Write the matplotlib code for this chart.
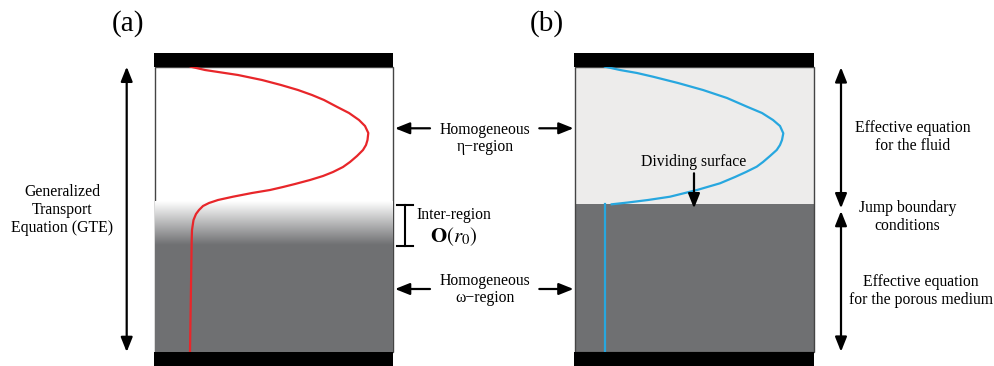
import numpy as np
import matplotlib
matplotlib.use('Agg')
import matplotlib.pyplot as plt
from matplotlib.patches import Rectangle

plt.rcParams['font.family'] = ['Liberation Serif', 'DejaVu Serif']
plt.rcParams['mathtext.fontset'] = 'stix'

# ---------------- data (pixel coordinates) -------------
panel_labels = ['(a)', '(b)']

# velocity profile, panel (a) (GTE with inter-region)
red_x = [190.7, 205, 238, 262, 281, 298, 312, 324, 336.7, 349, 359, 365, 368.3,
         367.5, 366, 363, 357, 350, 343, 333, 323, 310, 295, 283, 270, 252, 233,
         218, 209, 203, 199, 196, 193.5, 192, 191.7, 190.0]
red_y = [66.7, 70, 75, 80, 85, 90, 95, 100, 106.7, 113, 120, 126, 133, 140, 145,
         150, 156, 162, 167, 172, 176, 180, 184, 187, 190, 193, 196.7, 200, 203,
         206, 210, 214, 220, 230, 240, 352]

# velocity profile, panel (b)
blue_x = [605, 620, 637, 653, 678, 703, 727, 747, 762, 773, 780, 783.3, 782, 780,
          776.7, 770, 763, 756.7, 746, 735, 720, 697, 670, 648, 628, 611.7]
blue_y = [66.7, 70, 73, 76.7, 83, 90, 98, 106.7, 113, 120, 126, 133.3, 140, 145,
          150, 156, 162, 166.7, 172, 177, 183.3, 190, 196.7, 200, 202.5, 204.3]
blue_porous_x = [605, 605]
blue_porous_y = [204.3, 352]

mid_labels = ['Homogeneous\nη\u2212region', 'Homogeneous\nω\u2212region']
left_label = 'Generalized\nTransport\nEquation (GTE)'
inter_label = 'Inter-region'
order_label = r'$\mathbf{O}\left(r_0\right)$'
dividing_label = 'Dividing surface'
right_labels = ['Effective equation\nfor the fluid', 'Jump boundary\nconditions',
                'Effective equation\nfor the porous medium']

# ---------------- figure -------------------------------------------------------
fig = plt.figure(figsize=(9.95, 3.66), dpi=100)
ax = fig.add_axes([0, 0, 1, 1])
ax.set_xlim(0, 995)
ax.set_ylim(366, 0)
ax.axis('off')

GRAY = '#6f7072'
LIGHT = '#edeceb'
FS = 11.3

# ---- panel (a)
ax.add_patch(Rectangle((154.5, 66.7), 238.5, 285.3, facecolor='white',
                       edgecolor='#444444', lw=1.0, zorder=1))
grad = np.linspace(1.0, 0.0, 100)[:, None]
white = np.array([1.0, 1.0, 1.0])
gcol = np.array([0x6f, 0x70, 0x72]) / 255.0
img = grad[..., None] * white + (1 - grad[..., None]) * gcol
ax.imshow(img, extent=(155, 392.5, 245, 201), aspect='auto', zorder=1.5,
          interpolation='bilinear')
ax.add_patch(Rectangle((155, 244.5), 237.5, 107.5, facecolor=GRAY,
                       edgecolor='none', zorder=1.5))
ax.add_patch(Rectangle((154.3, 53.3), 238.7, 13.4, facecolor='black', zorder=3))
ax.add_patch(Rectangle((154.3, 352), 238.7, 16, facecolor='black', zorder=3))
ax.plot(red_x, red_y, color='#e8262a', lw=1.6, zorder=2.5,
        solid_joinstyle='round')

# ---- panel (b)
ax.add_patch(Rectangle((574.5, 66.7), 239, 137.6, facecolor=LIGHT,
                       edgecolor='none', zorder=1))
ax.add_patch(Rectangle((574.5, 204.3), 239, 147.7, facecolor=GRAY,
                       edgecolor='none', zorder=1))
ax.add_patch(Rectangle((574.5, 66.7), 239, 285.3, facecolor='none',
                       edgecolor='#444444', lw=1.0, zorder=1.2))
ax.add_patch(Rectangle((574.3, 53.3), 239.2, 13.4, facecolor='black', zorder=3))
ax.add_patch(Rectangle((574.3, 352), 239.2, 16, facecolor='black', zorder=3))
ax.plot(blue_x, blue_y, color='#27a7df', lw=1.6, zorder=2.5,
        solid_joinstyle='round')
ax.plot(blue_porous_x, blue_porous_y, color='#27a7df', lw=1.6, zorder=2.5)

# ---- panel labels
ax.text(128, 24, panel_labels[0], fontsize=21, ha='center', va='center')
ax.text(547, 24, panel_labels[1], fontsize=21, ha='center', va='center')

AS1 = '-|>,head_length=0.55,head_width=0.22'
AS2 = '<|-|>,head_length=0.55,head_width=0.22'


def arrow(tail, tip, style=AS1):
    ax.annotate('', xy=tip, xytext=tail,
                arrowprops=dict(arrowstyle=style, color='black', lw=1.6,
                                mutation_scale=16, shrinkA=0, shrinkB=0))


# left GTE arrow and text
arrow((126.7, 66.7), (126.7, 352), AS2)
ax.text(62.5, 210, left_label, fontsize=FS, ha='center', va='center',
        linespacing=1.18)

# middle labels with arrows
ax.text(485.3, 138.5, mid_labels[0], fontsize=FS, ha='center', va='center',
        linespacing=1.15)
arrow((430, 128.3), (395, 128.3))
arrow((539.3, 128.3), (573.5, 128.3))
ax.text(485.3, 289.5, mid_labels[1], fontsize=FS, ha='center', va='center',
        linespacing=1.15)
arrow((430, 289), (395, 289))
arrow((539.3, 289), (573.5, 289))

# inter-region bracket
ax.plot([405, 405], [205, 245.7], color='black', lw=1.5)
ax.plot([397, 413], [205, 205], color='black', lw=1.5)
ax.plot([397, 413], [245.7, 245.7], color='black', lw=1.5)
ax.text(453.8, 215, inter_label, fontsize=FS, ha='center', va='center')
ax.text(453.7, 237, order_label, fontsize=15, ha='center', va='center')

# dividing surface
ax.text(694, 162.3, dividing_label, fontsize=FS, ha='center', va='center')
arrow((694, 173.3), (694, 208.3))

# right arrows and labels
arrow((841, 67.3), (841, 208.3), AS2)
arrow((841, 211), (841, 351.7), AS2)
ax.text(912.5, 136.7, right_labels[0], fontsize=FS, ha='center', va='center',
        linespacing=1.15)
ax.text(907.5, 217, right_labels[1], fontsize=FS, ha='center', va='center',
        linespacing=1.15)
ax.text(920.8, 291.2, right_labels[2], fontsize=FS, ha='center', va='center',
        linespacing=1.15)

fig.savefig('out.png', dpi=100)
